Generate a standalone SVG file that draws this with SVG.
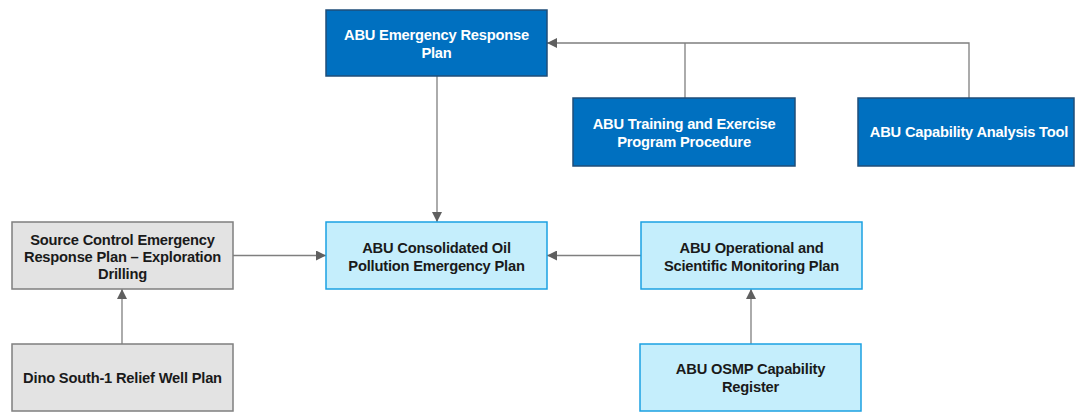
<svg xmlns="http://www.w3.org/2000/svg" width="1075" height="412" viewBox="0 0 1075 412">
<style>
.dark rect{fill:#0070C0;stroke:#1F4E79;stroke-width:1.5}
.light rect{fill:#C5EEFC;stroke:#1BA1E2;stroke-width:1.5}
.gray rect{fill:#E3E3E3;stroke:#7F7F7F;stroke-width:1.5}
text{font-family:"Liberation Sans",Arial,sans-serif;font-weight:bold;font-size:14.7px;text-anchor:middle;letter-spacing:-0.2px}
.dark text{fill:#FFFFFF}
.light text,.gray text{fill:#1A1A1A}
.conn path{fill:none;stroke:#7F7F7F;stroke-width:1.3}
</style>
<defs>
<marker id="arr" viewBox="0 0 10 10" refX="10" refY="5" markerWidth="10" markerHeight="10" markerUnits="userSpaceOnUse" orient="auto">
<path d="M0,0 L10,5 L0,10 Z" fill="#5F5F5F"/>
</marker>
</defs>
<g id="connectors" class="conn">
<path d="M969,98 V43 H547" marker-end="url(#arr)"/>
<path d="M685,98 V43"/>
<path d="M437,76 V222" marker-end="url(#arr)"/>
<path d="M233,255.5 H326" marker-end="url(#arr)"/>
<path d="M641,255.5 H547" marker-end="url(#arr)"/>
<path d="M122,344 V289" marker-end="url(#arr)"/>
<path d="M751,344 V289" marker-end="url(#arr)"/>
</g>
<g id="erp" class="dark">
<rect x="326" y="10" width="221" height="66"/>
<text x="436.5" y="40">ABU Emergency Response</text>
<text x="436.5" y="58">Plan</text>
</g>
<g id="training" class="dark">
<rect x="573" y="98" width="222" height="68"/>
<text x="684" y="129">ABU Training and Exercise</text>
<text x="684" y="147">Program Procedure</text>
</g>
<g id="capability" class="dark">
<rect x="858" y="98" width="216" height="68"/>
<text x="969" y="137">ABU Capability Analysis Tool</text>
</g>
<g id="source" class="gray">
<rect x="12" y="222" width="221" height="67"/>
<text x="122.5" y="245">Source Control Emergency</text>
<text x="122.5" y="262">Response Plan – Exploration</text>
<text x="122.5" y="279">Drilling</text>
</g>
<g id="consolidated" class="light">
<rect x="326" y="222" width="221" height="67"/>
<text x="436.5" y="253">ABU Consolidated Oil</text>
<text x="436.5" y="271">Pollution Emergency Plan</text>
</g>
<g id="operational" class="light">
<rect x="641" y="222" width="221" height="67"/>
<text x="751.5" y="253">ABU Operational and</text>
<text x="751.5" y="271">Scientific Monitoring Plan</text>
</g>
<g id="dino" class="gray">
<rect x="12" y="344" width="221" height="67"/>
<text x="122.5" y="383">Dino South-1 Relief Well Plan</text>
</g>
<g id="osmp" class="light">
<rect x="640" y="344" width="221" height="67"/>
<text x="750.5" y="374">ABU OSMP Capability</text>
<text x="750.5" y="392">Register</text>
</g>
</svg>
